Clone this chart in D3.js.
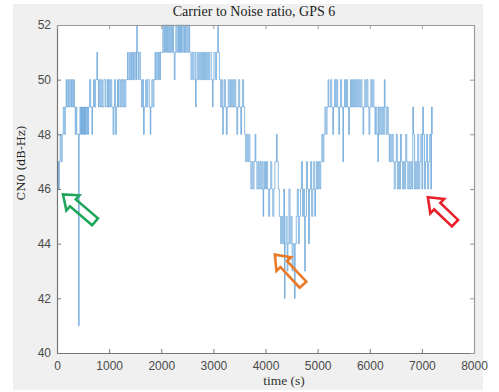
<!DOCTYPE html>
<html lang="en">
<head>
<meta charset="utf-8">
<title>Carrier to Noise ratio, GPS 6</title>
<script src="https://cdn.jsdelivr.net/npm/d3@7"></script>
<style>
	html, body { margin: 0; padding: 0; background: #fff; }
	svg { display: block; }
</style>
</head>
<body>
<script>
	// time (s) / CN0 (dB-Hz) steps
	const cn0Series = [
		[0,46],[15,47],[30,46],[45,47],[60,48],[80,47],[100,48],[120,49],[140,48],[160,49],[175,50],[190,49],
		[210,50],[225,49],[245,50],[265,49],[280,50],[300,49],[320,50],[335,49],[350,48],[365,49],[380,48],
		[415,41],[425,48],
		[440,49],[455,48],[470,49],[480,48],[495,49],[505,48],[520,49],[530,48],[545,49],[560,48],[575,49],[590,48],
		[605,49],[625,50],[645,49],[670,48],[680,49],[700,50],[720,49],[740,50],[765,51],[775,50],[795,49],[810,50],
		[830,49],[850,50],[870,49],[900,50],[930,49],[960,50],[975,49],[990,50],[1010,49],[1030,50],[1050,49],[1075,48],
		[1090,49],[1105,50],[1120,48],[1140,49],[1160,50],[1175,49],[1190,50],
		[1215,49],[1235,50],[1260,49],[1280,50],[1300,49],[1320,50],[1355,51],[1365,50],[1395,51],[1405,50],[1430,51],
		[1445,50],[1465,51],[1480,50],
		[1500,51],[1520,50],[1530,52],[1540,51],[1560,50],[1575,51],
		[1600,50],[1620,49],[1640,50],[1660,48],[1675,49],[1700,50],[1720,49],[1740,50],[1770,49],[1790,48],[1800,49],
		[1820,50],[1840,49],[1860,50],
		[1880,51],[1895,50],[1915,51],[1935,50],[1950,51],[1970,50],[1985,51],
		[2030,52],[2050,51],[2065,52],[2085,51],[2100,52],[2120,51],[2140,52],[2160,51],[2180,52],[2200,51],[2215,52],
		[2235,51],[2250,50],[2265,51],[2280,52],[2300,51],[2320,52],[2335,51],[2350,52],[2370,51],[2385,52],[2400,51],
		[2420,52],[2440,51],[2455,52],[2470,51],[2490,52],[2510,51],[2530,52],[2545,51],
		[2570,50],[2590,51],[2610,50],[2630,51],[2660,49],[2670,50],[2690,51],[2710,50],[2730,51],[2750,50],[2770,51],
		[2790,50],[2810,51],[2830,50],[2850,51],[2870,50],[2890,51],[2910,50],[2930,51],[2960,50],[2985,49],[2995,50],
		[3010,51],[3040,50],[3060,51],[3085,52],[3095,51],[3115,50],
		[3140,49],[3160,50],[3180,48],[3190,49],[3210,50],[3230,49],[3250,48],[3265,49],[3285,50],[3305,49],[3330,50],[3350,49],
		[3370,50],[3390,49],[3410,50],[3430,49],[3450,48],[3465,49],[3485,50],[3505,49],[3525,48],[3540,49],[3560,50],[3580,49],
		[3600,48],[3620,47],[3640,48],[3660,47],[3680,48],
		[3700,47],[3720,46],[3740,47],[3760,46],[3780,47],[3800,48],[3815,47],[3835,46],[3855,47],[3875,46],[3895,47],
		[3915,46],[3935,47],[3955,45],[3965,46],[3980,47],
		[4000,46],[4020,47],[4040,46],[4060,45],[4080,46],[4100,47],[4120,46],[4140,45],[4160,46],[4180,47],[4210,48],
		[4225,47],[4245,46],[4265,45],
		[4290,44],[4310,45],[4330,44],[4350,46],[4365,42],[4375,44],[4395,45],[4415,43],[4430,44],[4450,46],[4470,44],
		[4490,45],[4510,43],[4530,44],[4555,42],[4570,44],[4590,45],[4610,46],[4630,44],[4650,45],
		[4670,46],[4690,47],[4710,45],[4730,46],[4750,43],[4765,45],[4785,47],[4805,46],[4825,44],[4845,46],[4865,47],
		[4885,45],[4905,46],[4925,47],[4945,45],
		[4960,46],[4980,47],[5000,46],[5020,47],[5040,46],[5060,47],
		[5080,48],[5100,47],[5120,48],[5140,49],[5160,48],[5180,49],[5200,50],[5215,49],
		[5250,50],[5270,49],[5290,48],[5305,49],[5325,50],[5345,49],[5365,50],[5385,49],[5405,48],[5420,49],[5440,50],
		[5460,49],[5485,47],[5495,49],[5515,50],[5535,49],[5555,50],[5575,49],[5595,48],[5610,49],[5630,50],[5650,49],
		[5670,50],[5690,49],[5710,50],[5730,49],[5750,50],[5770,49],[5790,50],[5810,49],[5830,50],[5850,49],[5870,48],
		[5885,49],[5905,50],[5925,49],[5945,50],[5965,49],[5985,48],[6000,49],[6020,50],[6040,49],[6060,50],[6080,49],
		[6100,48],[6115,49],[6135,48],[6155,47],[6165,49],
		[6180,48],[6200,49],[6220,48],[6240,49],[6260,48],[6280,50],[6295,49],[6315,48],[6335,49],[6355,48],[6375,47],
		[6390,48],[6410,47],[6430,48],[6450,47],[6470,46],[6490,47],[6510,48],[6530,46],[6550,47],[6570,46],[6590,48],
		[6610,47],[6630,46],[6650,47],[6670,46],[6690,48],[6710,47],[6730,46],[6750,47],[6770,46],[6790,47],
		[6810,46],[6825,49],[6840,48],[6860,46],[6880,47],[6900,46],[6920,48],[6940,46],[6960,47],[6980,48],[7000,46],
		[7015,49],[7030,48],[7050,46],[7070,47],[7090,48],[7110,46],[7130,47],[7150,48],[7170,46],[7185,49],[7200,48]
	];

	const xTicks = [0, 1000, 2000, 3000, 4000, 5000, 6000, 7000, 8000];
	const yTicks = [40, 42, 44, 46, 48, 50, 52];

	// hollow arrows drawn over the plot: tail -> tip, in data units
	const arrowTails = [[730, 44.8], [4720, 42.5], [7635, 44.75]];
	const arrowTips = [[115, 45.8], [4180, 43.6], [7115, 45.7]];
	const arrowColors = ["#1fa55a", "#ea7a28", "#e8202a"];

	const W = 499, H = 392;
	const margin = { top: 25, right: 25, bottom: 39, left: 57 };

	const svg = d3.select("body").append("svg")
		.attr("width", W)
		.attr("height", H);

	// figure background
	svg.append("rect")
		.attr("x", 13).attr("y", 4)
		.attr("width", 470).attr("height", 386)
		.attr("fill", "#f0f0f0");

	const x = d3.scaleLinear().domain([0, 8000]).range([margin.left, W - margin.right]);
	const y = d3.scaleLinear().domain([40, 52]).range([H - margin.bottom, margin.top]);

	svg.append("rect")
		.attr("x", x(0)).attr("y", y(52))
		.attr("width", x(8000) - x(0)).attr("height", y(40) - y(52))
		.attr("fill", "#fff");

	svg.append("clipPath").attr("id", "plotclip")
		.append("rect")
		.attr("x", x(0)).attr("y", y(52) - 1)
		.attr("width", x(8000) - x(0)).attr("height", y(40) - y(52) + 2);

	const line = d3.line()
		.x(d => x(d[0]))
		.y(d => y(d[1]))
		.curve(d3.curveStepAfter);

	svg.append("path")
		.datum(cn0Series)
		.attr("clip-path", "url(#plotclip)")
		.attr("fill", "none")
		.attr("stroke", "#3b8bd0")
		.attr("stroke-opacity", 0.7)
		.attr("stroke-width", 0.85)
		.attr("d", line);

	// axes (box with inward ticks, like matlab)
	const axisColor = "#777";
	const tickFont = "'Liberation Sans', Arial, sans-serif";

	const xAxis = svg.append("g")
		.attr("transform", `translate(0,${y(40)})`)
		.call(d3.axisBottom(x).tickValues(xTicks).tickFormat(d3.format("d"))
			.tickSizeInner(-4).tickSizeOuter(0).tickPadding(8));
	const yAxis = svg.append("g")
		.attr("transform", `translate(${x(0)},0)`)
		.call(d3.axisLeft(y).tickValues(yTicks).tickSizeInner(-4).tickSizeOuter(0).tickPadding(6));
	const xTop = svg.append("g")
		.attr("transform", `translate(0,${y(52)})`)
		.call(d3.axisTop(x).tickValues(xTicks).tickSizeInner(-4).tickSizeOuter(0).tickFormat(""));
	const yRight = svg.append("g")
		.attr("transform", `translate(${x(8000)},0)`)
		.call(d3.axisRight(y).tickValues(yTicks).tickSizeInner(-4).tickSizeOuter(0).tickFormat(""));

	[xAxis, yAxis, xTop, yRight].forEach(g => {
		g.selectAll(".domain").attr("stroke", axisColor).attr("stroke-width", 1.2);
		g.selectAll(".tick line").attr("stroke", axisColor);
		g.selectAll("text")
			.attr("fill", "#4a4a4a")
			.style("font-family", tickFont)
			.style("font-size", "12px");
	});
	xTop.selectAll(".domain, .tick line").attr("stroke", "#999");
	yRight.selectAll(".domain, .tick line").attr("stroke", "#999");

	// arrows
	arrowTips.forEach((tip, i) => {
		const tail = arrowTails[i];
		const x0 = x(tail[0]), y0 = y(tail[1]);
		const x1 = x(tip[0]), y1 = y(tip[1]);
		const L = Math.hypot(x1 - x0, y1 - y0);
		const ang = Math.atan2(y1 - y0, x1 - x0) * 180 / Math.PI;
		const w = 4.5, hw = 10, hl = 13;
		const pts = [[0, -w], [L - hl, -w], [L - hl, -hw], [L, 0], [L - hl, hw], [L - hl, w], [0, w]];
		svg.append("polygon")
			.attr("points", pts.map(p => p.join(",")).join(" "))
			.attr("transform", `translate(${x0},${y0}) rotate(${ang})`)
			.attr("fill", "none")
			.attr("stroke", arrowColors[i])
			.attr("stroke-width", 2.6)
			.attr("stroke-linejoin", "miter");
	});

	// labels
	const serif = "'Liberation Serif', 'DejaVu Serif', serif";

	svg.append("text")
		.attr("x", 254)
		.attr("y", 16)
		.attr("text-anchor", "middle")
		.style("font-family", serif)
		.style("font-size", "14px")
		.attr("fill", "#222")
		.text("Carrier to Noise ratio, GPS 6");

	svg.append("text")
		.attr("x", 284)
		.attr("y", 385)
		.attr("text-anchor", "middle")
		.style("font-family", serif)
		.style("font-size", "13.5px")
		.attr("fill", "#333")
		.text("time (s)");

	svg.append("text")
		.attr("transform", "translate(25,163) rotate(-90)")
		.attr("text-anchor", "middle")
		.style("font-family", "'DejaVu Serif', serif")
		.style("font-size", "11.5px")
		.attr("fill", "#222")
		.text("CN0 (dB-Hz)");
</script>
</body>
</html>
